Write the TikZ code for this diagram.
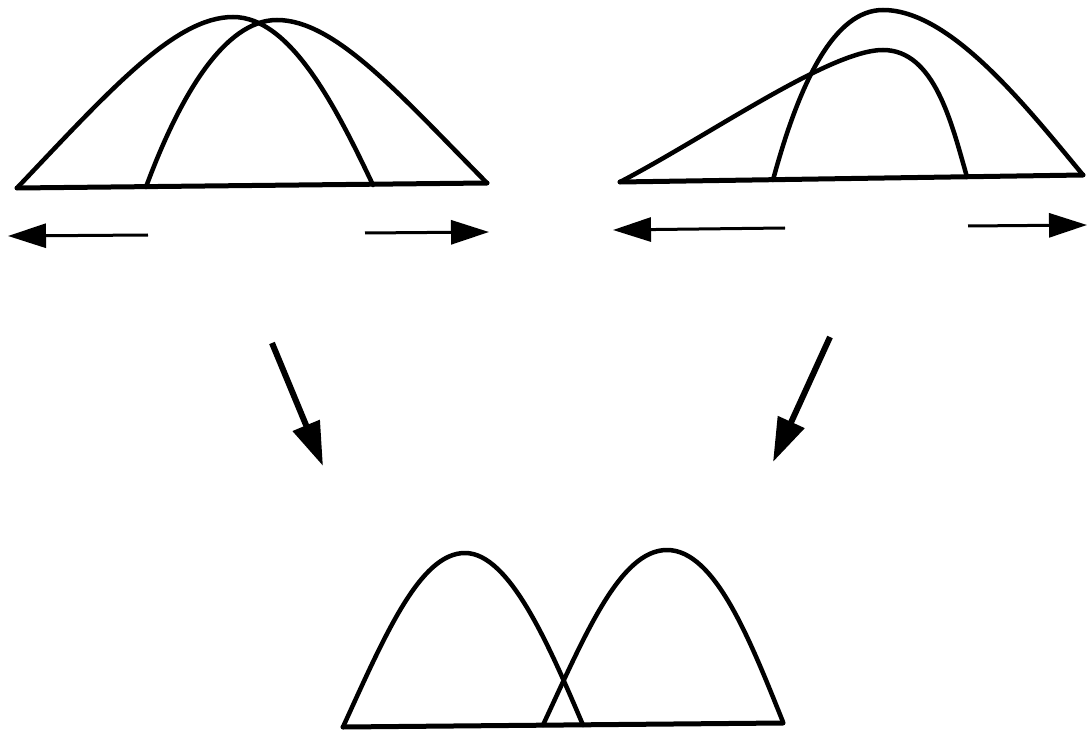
\documentclass[tikz,border=0pt]{standalone}
\usetikzlibrary{arrows.meta}
\begin{document}
\begin{tikzpicture}[x=1pt,y=-1pt,
  curve/.style={line width=4.5pt,line join=round,line cap=round},
  base/.style={line width=5pt,line cap=round},
  smallarrow/.style={line width=3pt,-{Triangle[length=38pt,width=24pt]}},
  bigarrow/.style={line width=6pt,-{Triangle[length=44pt,width=28pt]}}]
\useasboundingbox (0,0) rectangle (1087,735);
% ---- top left ----
\draw[base] (17,188) -- (487,183);
\draw[curve] (17,188) .. controls (110,90) and (175,17) .. (233,17)
  .. controls (290,17) and (335,105) .. (373,185);
\draw[curve] (146,187) .. controls (180,95) and (225,20) .. (277,20)
  .. controls (335,20) and (400,95) .. (487,183);
\draw[smallarrow] (148,235) -- (8,236);
\draw[smallarrow] (365,233) -- (489,232);
% ---- top right ----
\draw[base] (620,182) -- (1083,175);
\draw[curve] (620,182) .. controls (710,135) and (830,50) .. (883,50)
  .. controls (935,50) and (952,125) .. (967,177);
\draw[curve] (773,180) .. controls (800,80) and (835,10) .. (883,10)
  .. controls (950,10) and (1025,105) .. (1083,175);
\draw[smallarrow] (785,228) -- (613,230);
\draw[smallarrow] (968,226) -- (1087,225);
% ---- big arrows ----
\draw[bigarrow] (272,343) -- (323,466);
\draw[bigarrow] (830,337) -- (773,462);
% ---- bottom ----
\draw[base] (343,727) -- (783,723);
\draw[curve] (343,727) .. controls (385,635) and (420,553) .. (465,553)
  .. controls (510,553) and (550,648) .. (583,725);
\draw[curve] (543,725) .. controls (585,635) and (620,550) .. (667,550)
  .. controls (715,550) and (750,640) .. (783,722);
\end{tikzpicture}
\end{document}
